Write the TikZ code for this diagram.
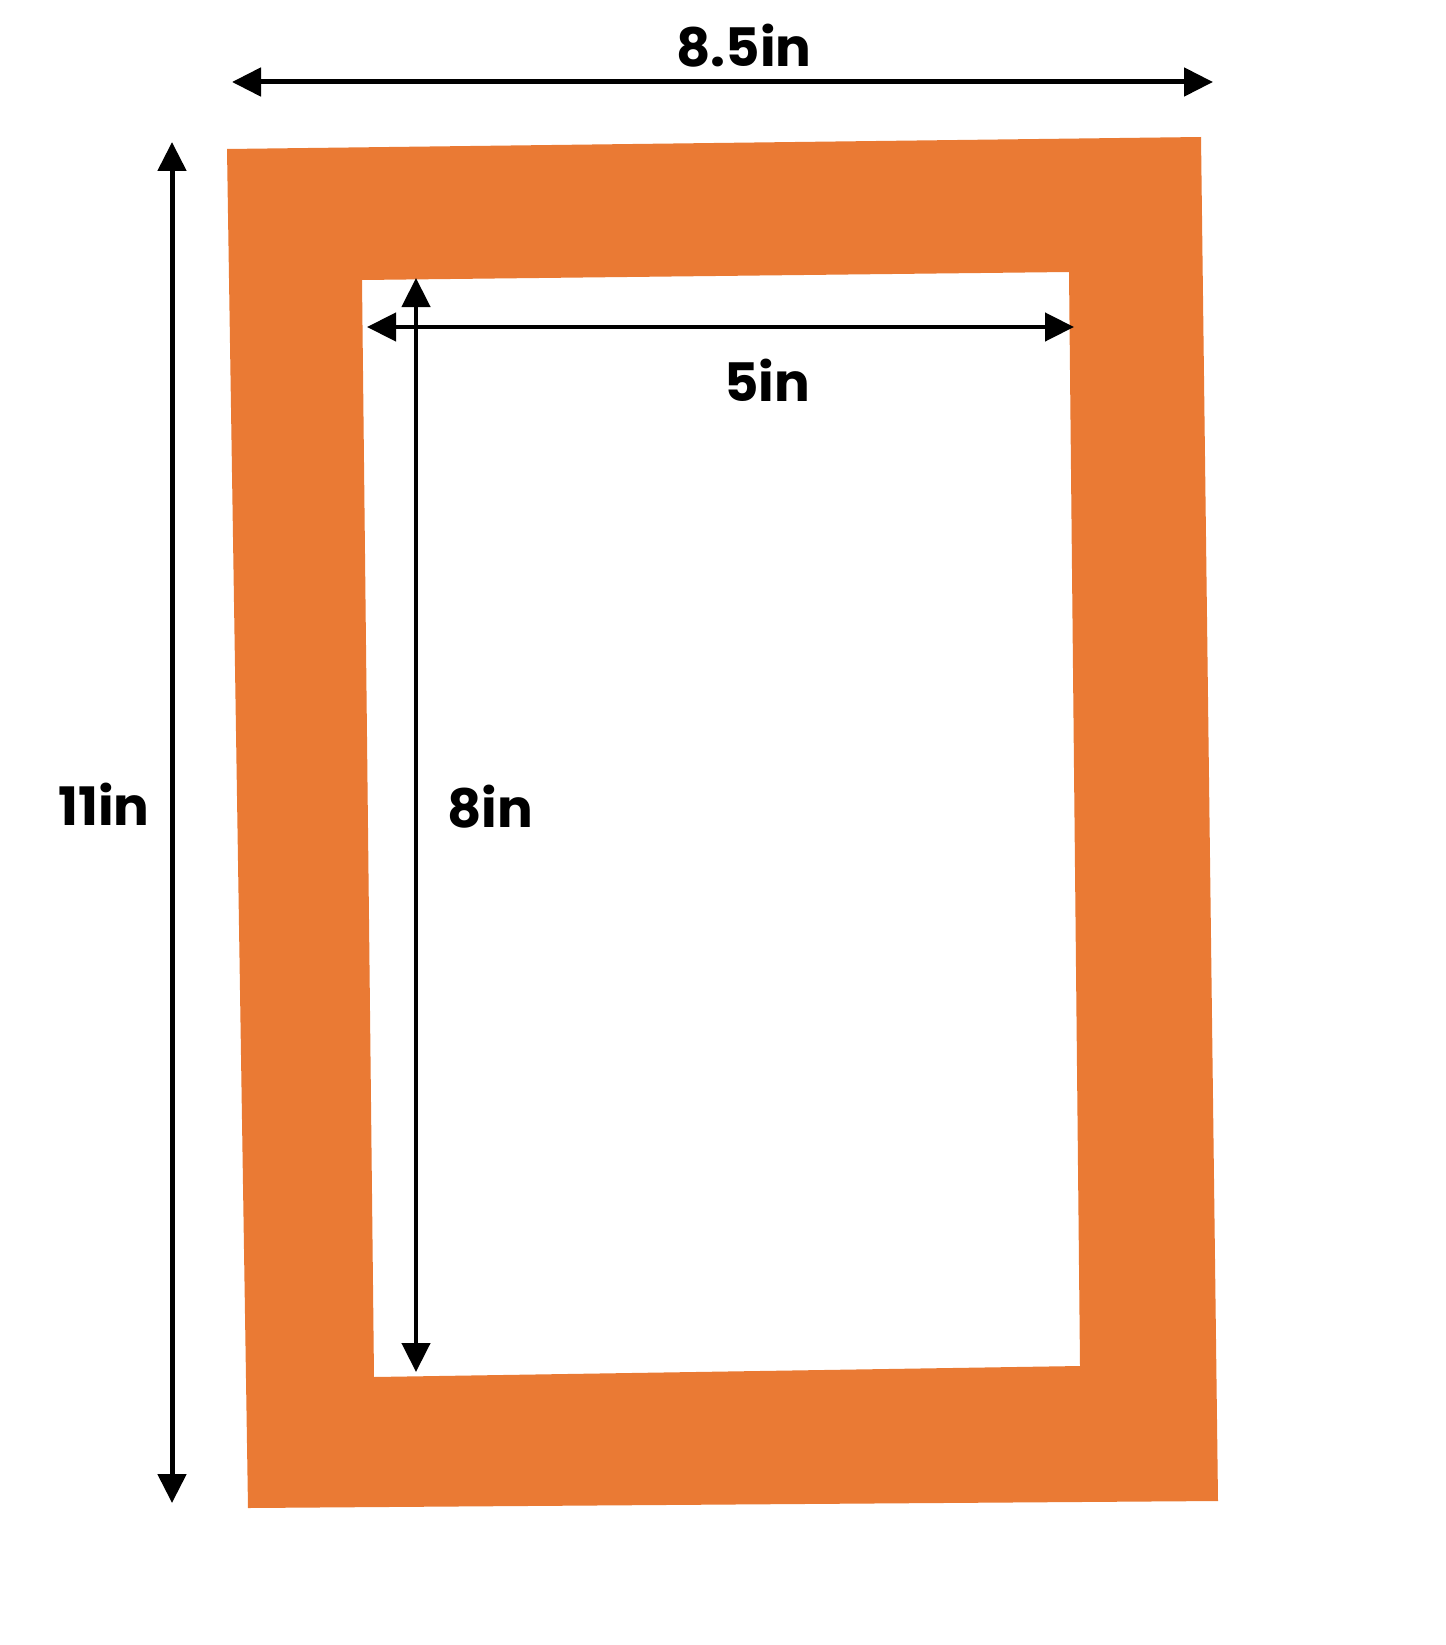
\documentclass[tikz,border=0pt]{standalone}
\usepackage{fontspec}
\setmainfont{Poppins}[BoldFont={Poppins Bold}]
\usetikzlibrary{arrows.meta}
\definecolor{frameorange}{RGB}{234,122,52}
\tikzset{
  dimarrow/.style={line width=5pt, {Triangle[length=29pt,width=28pt]}-{Triangle[length=29pt,width=28pt]}},
  dimlabel/.style={font=\bfseries\fontsize{53}{60}\selectfont, inner sep=0pt, anchor=center}
}
\begin{document}
\begin{tikzpicture}[x=1pt,y=-1pt]
\useasboundingbox (0,0) rectangle (1445,1645);
\fill[white] (0,0) rectangle (1445,1645);
% outer corners
\coordinate (oTL) at (227,149);
\coordinate (oTR) at (1201,137);
\coordinate (oBR) at (1218,1501);
\coordinate (oBL) at (248,1508);
% inner corners
\coordinate (iTL) at (362,280);
\coordinate (iTR) at (1069,272);
\coordinate (iBR) at (1080,1366);
\coordinate (iBL) at (374,1377);
\fill[frameorange, even odd rule] (oTL) -- (oTR) -- (oBR) -- (oBL) -- cycle
  (iTL) -- (iTR) -- (iBR) -- (iBL) -- cycle;
% arrow ends
\coordinate (wL) at (232,82);
\coordinate (wR) at (1213,82);
\coordinate (hT) at (172,142);
\coordinate (hB) at (172,1503);
\coordinate (iwL) at (367,327);
\coordinate (iwR) at (1074,327);
\coordinate (ihT) at (416,278);
\coordinate (ihB) at (416,1372);
\draw[dimarrow] (wL) -- (wR);
\draw[dimarrow] (hT) -- (hB);
\draw[dimarrow, line width=4.5pt] (iwL) -- (iwR);
\draw[dimarrow, line width=4.5pt] (ihT) -- (ihB);
% labels
\node[dimlabel] (lw) at (744,46) {8.5in};
\node[dimlabel] (liw) at (767,380) {5in};
\node[dimlabel] (lih) at (490,807) {8in};
\node[dimlabel] (lh) at (104,804) {11in};
\end{tikzpicture}
\end{document}
